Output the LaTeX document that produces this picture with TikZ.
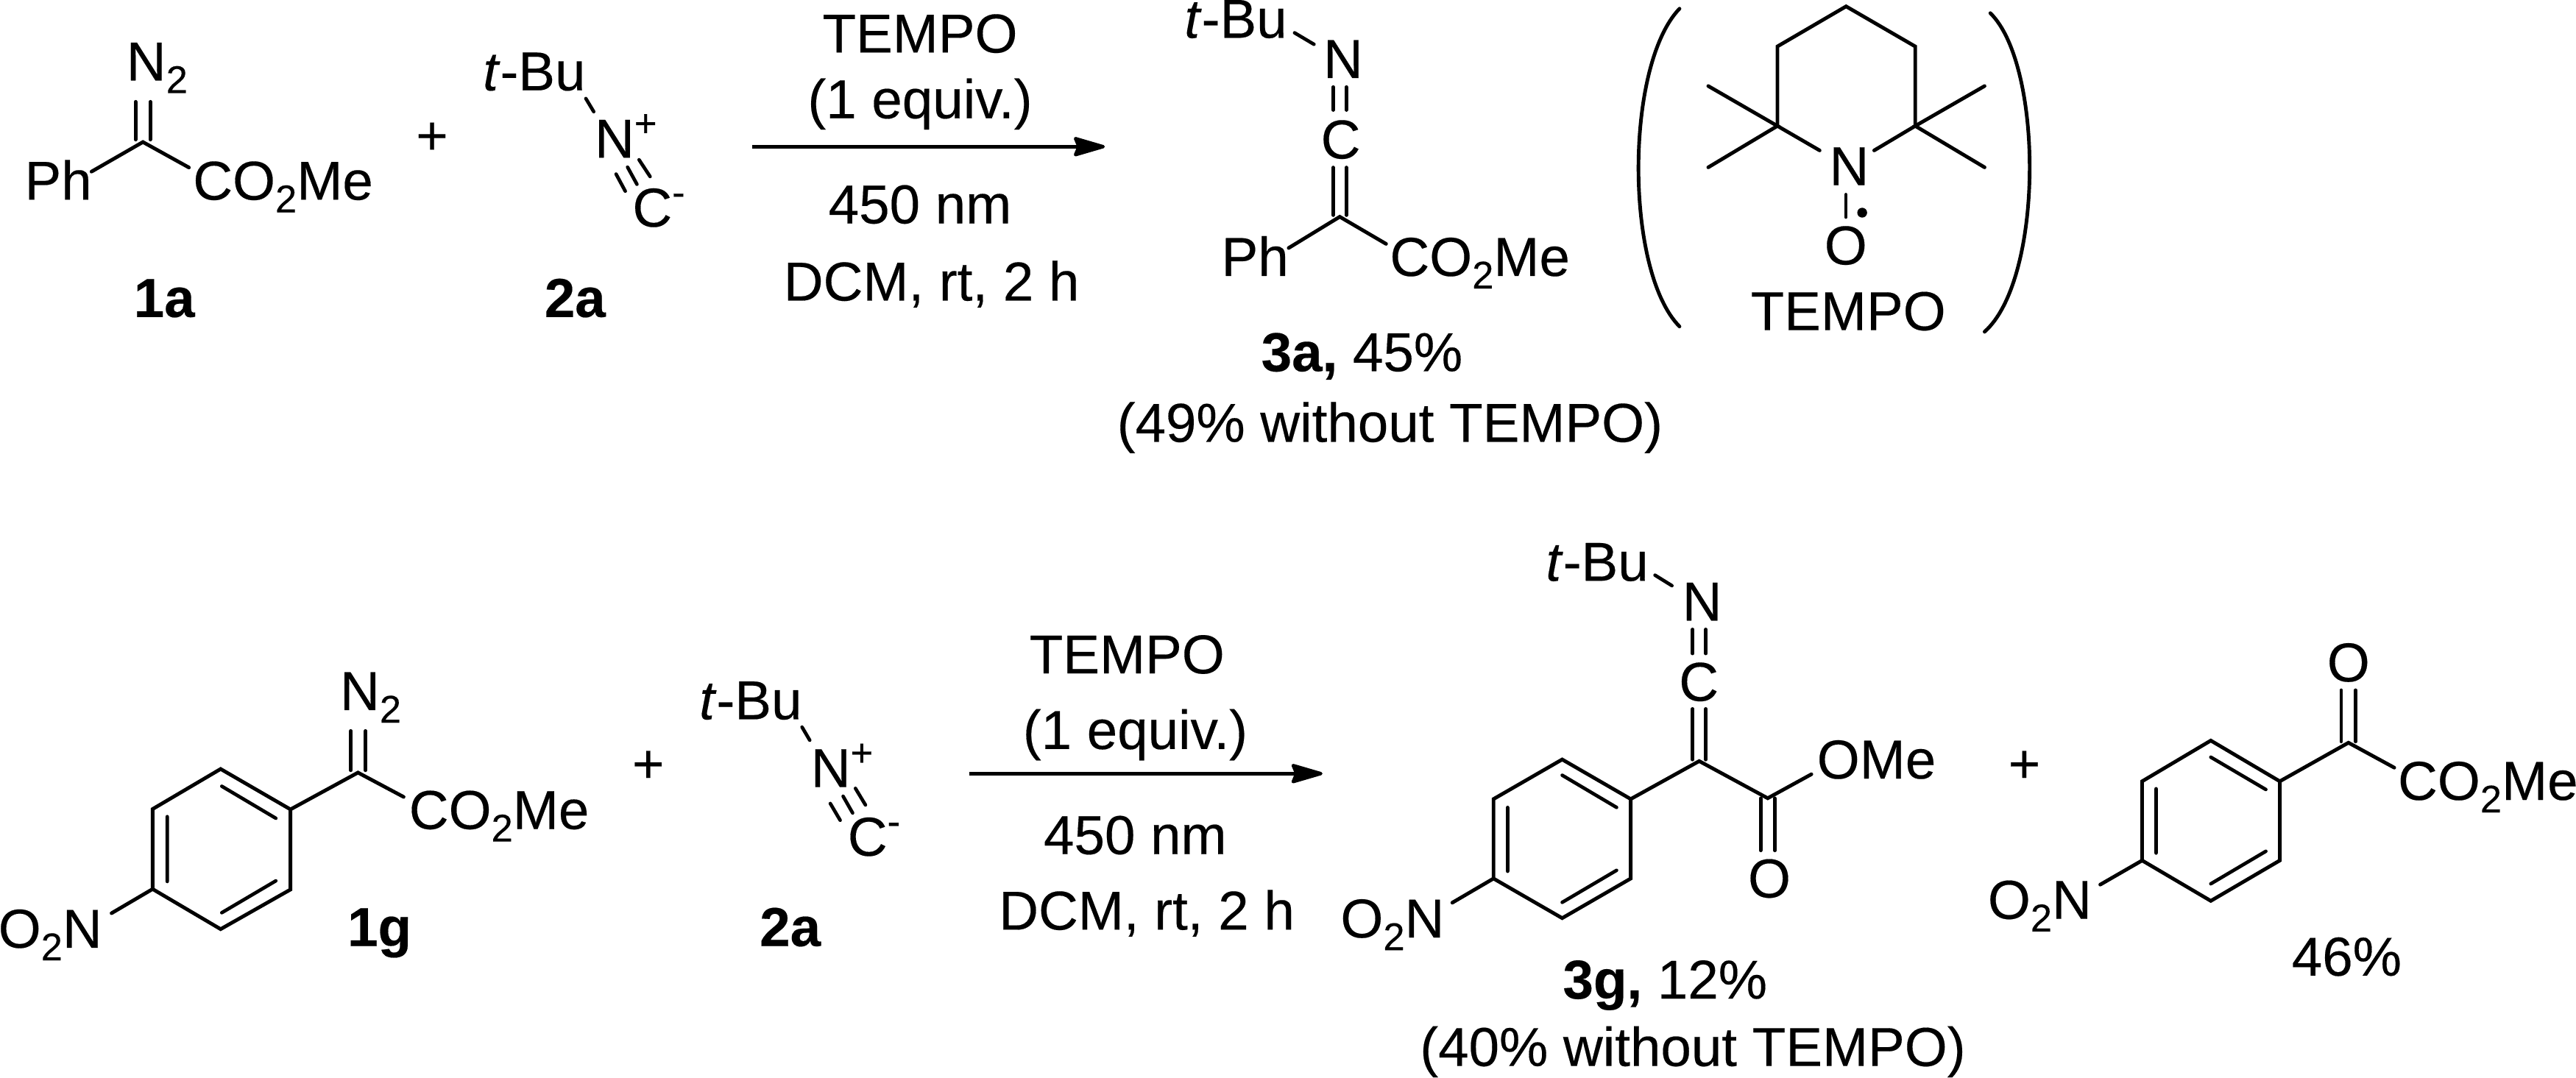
\documentclass[tikz,border=0pt]{standalone}
\usepackage{fontspec}
\setmainfont{Liberation Sans}[RawFeature={embolden=0.25}]
\usetikzlibrary{arrows.meta}
\newcommand\subd[1]{\raisebox{-.23em}{\fontsize{6.7pt}{6.7pt}\selectfont #1}}
\newcommand\supp[1]{\raisebox{.385em}{\fontsize{6.7pt}{6.7pt}\selectfont #1}}
\newcommand\tbu{\textit{t}-Bu}
\tikzset{
  lblw/.style={anchor=base west,inner sep=0pt,outer sep=0pt},
  lblc/.style={anchor=base,inner sep=0pt,outer sep=0pt},
  bond/.style={line width=0.22mm,line cap=round,line join=miter,black},
  thinbond/.style={line width=0.21mm,line cap=round,black},
  rxnarrow/.style={line width=0.2mm,-{Stealth[length=2.2mm,width=1.26mm,inset=0.25mm,round]}},
  brack/.style={line width=0.22mm,line cap=round},
  every node/.append style={font=\fontsize{9.5pt}{11pt}\selectfont,text=black}
}
\begin{document}
\begin{tikzpicture}[x=0.1mm,y=-0.1mm]
\useasboundingbox (0,0) rectangle (1568,656);
% ---- 1a
\node[lblw] (a1n2) at (77,49) {N\subd{2}};
\node[lblw] (a1ph) at (15,121.6) {Ph};
\node[lblw] (a1es) at (117.5,121.6) {CO\subd{2}Me};
\node[lblc] (a1lab) at (100,193) {\bfseries 1a};
\coordinate (a1c) at (87,86.5);
\coordinate (a1d1) at (82.5,62); \coordinate (a1e1) at (82.5,85);
\coordinate (a1d2) at (91.5,62); \coordinate (a1e2) at (91.5,85);
\coordinate (a1p) at (55.7,104.5); \coordinate (a1q) at (115,102);
\draw[bond] (a1p)--(a1c)--(a1q);
\draw[bond] (a1d1)--(a1e1) (a1d2)--(a1e2);
\node[lblc] (plus1) at (263,94) {+};
% ---- 2a top
\node[lblw] (b1t) at (294,55) {\tbu};
\node[lblw] (b1n) at (362,96) {N\supp{+}};
\node[lblw] (b1c) at (385,138) {C\supp{-}};
\node[lblc] (b1lab) at (350,193) {\bfseries 2a};
\coordinate (b1s) at (356.6,60); \coordinate (b1e) at (361.4,68);
\draw[thinbond] (b1s)--(b1e);
\coordinate (b1a1) at (375,106); \coordinate (b1a2) at (380.6,116.4);
\coordinate (b1b1) at (382,101.8); \coordinate (b1b2) at (387.7,112.2);
\coordinate (b1d1) at (389,97.3); \coordinate (b1d2) at (395.7,107.5);
\draw[thinbond] (b1a1)--(b1a2) (b1b1)--(b1b2) (b1d1)--(b1d2);
% ---- arrow top
\coordinate (ar1s) at (458,89.3); \coordinate (ar1e) at (672.5,89.3);
\draw[rxnarrow] (ar1s)--(ar1e);
\node[lblc] (r1a) at (560,32) {TEMPO};
\node[lblc] (r1b) at (560,72) {(1 equiv.)};
\node[lblc] (r1c) at (560,136) {450 nm};
\node[lblc] (r1d) at (567,183) {DCM, rt, 2 h};
% ---- 3a
\node[lblw] (c1t) at (721,23) {\tbu};
\node[lblw] (c1n) at (805.5,47.5) {N};
\node[lblw] (c1c) at (804,96.5) {C};
\node[lblw] (c1ph) at (743.5,168) {Ph};
\node[lblw] (c1es) at (846,168) {CO\subd{2}Me};
\coordinate (c1a) at (788,20); \coordinate (c1b) at (799.8,27);
\draw[thinbond] (c1a)--(c1b);
\coordinate (c1x1) at (811.5,53); \coordinate (c1x2) at (811.5,67);
\coordinate (c1y1) at (819.5,53); \coordinate (c1y2) at (819.5,67);
\draw[thinbond] (c1x1)--(c1x2) (c1y1)--(c1y2);
\coordinate (c1u1) at (811.5,102); \coordinate (c1u2) at (811.5,131);
\coordinate (c1v1) at (819.5,102); \coordinate (c1v2) at (819.5,131);
\draw[bond] (c1u1)--(c1u2) (c1v1)--(c1v2);
\coordinate (c1m) at (815.5,132); \coordinate (c1l) at (784.4,151); \coordinate (c1r) at (843.7,148.5);
\draw[bond] (c1l)--(c1m)--(c1r);
\node[lblc] (c1lab) at (829,226) {{\bfseries 3a,} 45\%};
\node[lblc] (c1lab2) at (846,269) {(49\% without TEMPO)};
% ---- TEMPO bracket
\coordinate (bl1) at (1022.3,5.3); \coordinate (bl2) at (1022.3,198.8);
\coordinate (br1) at (1211.5,8); \coordinate (br2) at (1208,202);
\draw[brack] (bl1) .. controls (989,40) and (989,165) .. (bl2);
\draw[brack] (br1) .. controls (1244,40) and (1244,170) .. (br2);
\coordinate (t1) at (1123.7,3.9); \coordinate (t2) at (1081.9,28.3); \coordinate (t3) at (1165.8,28.3);
\coordinate (t4) at (1081.9,76.7); \coordinate (t5) at (1165.8,76.7);
\coordinate (tl) at (1107.6,91.6); \coordinate (tr) at (1140.8,91.6);
\coordinate (m1) at (1039.8,52.4); \coordinate (m2) at (1039.8,101.9);
\coordinate (m3) at (1208,52.4); \coordinate (m4) at (1208,101.9);
\draw[bond] (tl)--(t4)--(t2)--(t1)--(t3)--(t5)--(tr);
\draw[bond] (m1)--(t4)--(m2) (m3)--(t5)--(m4);
\node[lblw] (tn) at (1113.5,112.7) {N};
\node[lblw] (to) at (1110.5,161) {O};
\coordinate (no1) at (1123.6,118.5); \coordinate (no2) at (1123.6,132.2);
\draw[thinbond] (no1)--(no2);
\fill (1133.5,129.5) circle[radius=3];
\node[lblc] (tlab) at (1125,201) {TEMPO};
% ---- 1g
\node[lblw] (d1n2) at (207,432.3) {N\subd{2}};
\node[lblw] (d1es) at (249,504.7) {CO\subd{2}Me};
\node[lblw] (d1no) at (-1,577) {O\subd{2}N};
\node[lblc] (d1lab) at (231,576) {\bfseries 1g};
\coordinate (g1) at (134.3,468.2); \coordinate (g2) at (176.8,492.8); \coordinate (g3) at (176.8,541.6);
\coordinate (g4) at (134.3,565.7); \coordinate (g5) at (92.9,541.3); \coordinate (g6) at (92.9,492.6);
\draw[bond] (g1)--(g2)--(g3)--(g4)--(g5)--(g6)--cycle;
\coordinate (gi1) at (135,478.7); \coordinate (gi2) at (167.9,498.2);
\coordinate (gi3) at (101.8,497.2); \coordinate (gi4) at (101.8,536.7);
\coordinate (gi5) at (135,555.7); \coordinate (gi6) at (167.9,536.3);
\draw[thinbond] (gi1)--(gi2) (gi3)--(gi4) (gi5)--(gi6);
\coordinate (gv) at (217.9,470.4); \coordinate (ge) at (245.7,485.2); \coordinate (gn) at (67.9,556);
\draw[bond] (g2)--(gv)--(ge);
\draw[bond] (g5)--(gn);
\coordinate (gd1) at (213.6,445); \coordinate (gd2) at (213.6,469);
\coordinate (gd3) at (222.5,445); \coordinate (gd4) at (222.5,469);
\draw[thinbond] (gd1)--(gd2) (gd3)--(gd4);
\node[lblc] (plus2) at (394.6,476.5) {+};
% ---- 2a bottom
\node[lblw] (b2t) at (425.7,437.9) {\tbu};
\node[lblw] (b2n) at (493.6,479.2) {N\supp{+}};
\node[lblw] (b2c) at (516,521) {C\supp{-}};
\node[lblc] (b2lab) at (481,576) {\bfseries 2a};
\coordinate (b2s) at (488.2,442.7); \coordinate (b2e) at (492.9,450.7);
\draw[thinbond] (b2s)--(b2e);
\coordinate (b2a1) at (505.4,489.2); \coordinate (b2a2) at (511.4,499.4);
\coordinate (b2b1) at (513.2,484.8); \coordinate (b2b2) at (519,495);
\coordinate (b2d1) at (520.7,480); \coordinate (b2d2) at (526.8,490.1);
\draw[thinbond] (b2a1)--(b2a2) (b2b1)--(b2b2) (b2d1)--(b2d2);
% ---- arrow bottom
\coordinate (ar2s) at (590,471); \coordinate (ar2e) at (805,471);
\draw[rxnarrow] (ar2s)--(ar2e);
\node[lblc] (r2a) at (686,410) {TEMPO};
\node[lblc] (r2b) at (691,456) {(1 equiv.)};
\node[lblc] (r2c) at (691,520) {450 nm};
\node[lblc] (r2d) at (698,566) {DCM, rt, 2 h};
% ---- 3g
\node[lblw] (e1t) at (941,353.6) {\tbu};
\node[lblw] (e1n) at (1024,377.8) {N};
\node[lblw] (e1c) at (1022,426.7) {C};
\node[lblw] (e1o) at (1106,474) {OMe};
\node[lblw] (e1oo) at (1064,546.4) {O};
\node[lblw] (e1no) at (816,570.8) {O\subd{2}N};
\coordinate (e1) at (950.9,462.4); \coordinate (e2) at (992.6,486.5); \coordinate (e3) at (992.6,534.9);
\coordinate (e4) at (950.9,559); \coordinate (e5) at (909.1,534.9); \coordinate (e6) at (909.1,486.5);
\draw[bond] (e1)--(e2)--(e3)--(e4)--(e5)--(e6)--cycle;
\coordinate (ei1) at (950.9,472); \coordinate (ei2) at (984,491.6);
\coordinate (ei3) at (917.7,491.6); \coordinate (ei4) at (917.7,530.5);
\coordinate (ei5) at (950.9,549.4); \coordinate (ei6) at (984,529.9);
\draw[thinbond] (ei1)--(ei2) (ei3)--(ei4) (ei5)--(ei6);
\coordinate (ev) at (1034.3,463.4); \coordinate (ec) at (1076,486); \coordinate (eo) at (1102.6,471.4); \coordinate (en) at (884,549.6);
\draw[bond] (e2)--(ev)--(ec)--(eo);
\draw[bond] (e5)--(en);
\coordinate (ea1) at (1007.4,350.2); \coordinate (ea2) at (1017.7,356.6);
\draw[thinbond] (ea1)--(ea2);
\coordinate (ex1) at (1030.3,383.2); \coordinate (ex2) at (1030.3,397.9);
\coordinate (ey1) at (1038.3,383.2); \coordinate (ey2) at (1038.3,397.9);
\draw[thinbond] (ex1)--(ex2) (ey1)--(ey2);
\coordinate (eu1) at (1030.3,431.6); \coordinate (eu2) at (1030.3,462.5);
\coordinate (ew1) at (1038.3,431.6); \coordinate (ew2) at (1038.3,462.5);
\draw[thinbond] (eu1)--(eu2) (ew1)--(ew2);
\coordinate (ep1) at (1071.7,486); \coordinate (ep2) at (1071.7,517.8);
\coordinate (eq1) at (1080.3,486); \coordinate (eq2) at (1080.3,517.8);
\draw[thinbond] (ep1)--(ep2) (eq1)--(eq2);
\node[lblc] (e1lab) at (1013.5,608) {{\bfseries 3g,} 12\%};
\node[lblc] (e1lab2) at (1030.4,649) {(40\% without TEMPO)};
% ---- plus + keto ester
\node[lblc] (plus3) at (1232.2,476.5) {+};
\node[lblw] (f1no) at (1210,559.4) {O\subd{2}N};
\node[lblw] (f1o) at (1416.5,414.9) {O};
\node[lblw] (f1es) at (1459.6,487) {CO\subd{2}Me};
\node[lblc] (f1lab) at (1428.4,594) {46\%};
\coordinate (f1) at (1345.7,450.9); \coordinate (f2) at (1387.7,475.7); \coordinate (f3) at (1387.7,523.9);
\coordinate (f4) at (1345.7,548.5); \coordinate (f5) at (1303.9,523.9); \coordinate (f6) at (1303.9,475.7);
\draw[bond] (f1)--(f2)--(f3)--(f4)--(f5)--(f6)--cycle;
\coordinate (fi1) at (1345.7,461); \coordinate (fi2) at (1379.2,480.7);
\coordinate (fi3) at (1312.4,480.2); \coordinate (fi4) at (1312.4,519.4);
\coordinate (fi5) at (1345.7,538.1); \coordinate (fi6) at (1379.2,518.3);
\draw[thinbond] (fi1)--(fi2) (fi3)--(fi4) (fi5)--(fi6);
\coordinate (fv) at (1429.5,452.2); \coordinate (fe) at (1457.4,467.4); \coordinate (fn) at (1278.4,538.6);
\draw[bond] (f2)--(fv)--(fe);
\draw[bond] (f5)--(fn);
\coordinate (fd1) at (1425.1,420.2); \coordinate (fd2) at (1425.1,451.5);
\coordinate (fd3) at (1433.8,420.2); \coordinate (fd4) at (1433.8,451.5);
\draw[thinbond] (fd1)--(fd2) (fd3)--(fd4);
\end{tikzpicture}
\end{document}
